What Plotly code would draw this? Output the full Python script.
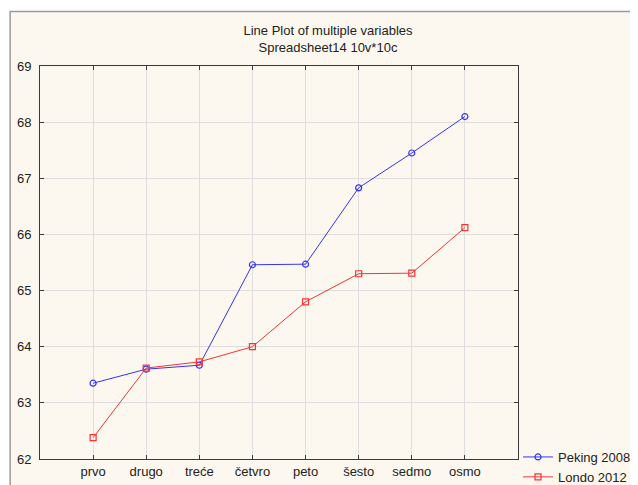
import plotly.graph_objects as go

categories = ["prvo", "drugo", "treće", "četvro", "peto", "šesto", "sedmo", "osmo"]
peking_2008 = [63.35, 63.60, 63.67, 65.46, 65.47, 66.83, 67.45, 68.10]
londo_2012 = [62.38, 63.62, 63.73, 64.00, 64.80, 65.30, 65.31, 66.12]
y_ticks = [62, 63, 64, 65, 66, 67, 68, 69]

FONT = "Liberation Sans, Arial, sans-serif"

# the page body has an 8px margin, so the figure is sized to fill the window from (8, 8)
W, H = 630, 477
OFF = 8
PL, PR, PT, PB = 40 - OFF, 528 - OFF, 66 - OFF, 459 - OFF  # plot box in figure pixels

fig = go.Figure()
fig.add_trace(go.Scatter(
    x=categories, y=peking_2008, name="Peking 2008", mode="lines+markers",
    line=dict(color="#3434f5", width=1),
    marker=dict(symbol="circle-open", size=6, color="#3434f5", line=dict(width=1.2)),
))
fig.add_trace(go.Scatter(
    x=categories, y=londo_2012, name="Londo 2012", mode="lines+markers",
    line=dict(color="#f53434", width=1),
    marker=dict(symbol="square-open", size=6, color="#f53434", line=dict(width=1.2)),
))

axis_common = dict(
    showline=True, linecolor="#3a3a3a", linewidth=1, mirror="ticks",
    ticks="inside", ticklen=4, tickcolor="#3a3a3a",
    showgrid=True, gridcolor="#dedede", gridwidth=1,
    zeroline=False, automargin=False,
    tickfont=dict(family=FONT, size=13, color="#222222"),
)

pw, ph = PR - PL, PB - PT

fig.update_layout(
    width=W, height=H,
    margin=dict(l=PL, r=W - PR, t=PT, b=H - PB),
    paper_bgcolor="white", plot_bgcolor="white",
    font=dict(family=FONT, size=12, color="#222222"),
    title=dict(
        text="Line Plot of multiple variables<br>Spreadsheet14 10v*10c",
        x=320 / W, xanchor="center", xref="container",
        y=1 - 27 / H, yanchor="top", yref="container",
        font=dict(family=FONT, size=13, color="#222222"),
    ),
    xaxis=dict(type="category", categoryarray=categories, range=[-1, 8], **axis_common),
    yaxis=dict(range=[62, 69], tickvals=y_ticks, ticklabelstandoff=5, **axis_common),
    legend=dict(x=510 / W, xanchor="left", xref="container",
                y=1 - 434 / H, yanchor="top", yref="container",
                bgcolor="rgba(0,0,0,0)", font=dict(family=FONT, size=13, color="#222222"),
                tracegroupgap=0, itemwidth=30, borderwidth=0),
    showlegend=True,
    shapes=[dict(type="rect", xref="paper", yref="paper",
                 x0=(1.5 - PL) / pw, x1=1.4, y0=-0.3, y1=(PB - 3.5) / ph,
                 fillcolor="#fdf8ef", line=dict(color="#9a9a9a", width=1.5), layer="below")],
)

fig.write_html("out.html")
